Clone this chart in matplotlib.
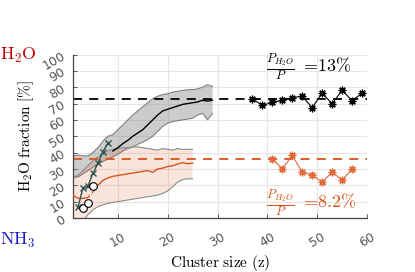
import numpy as np
import matplotlib
matplotlib.use("Agg")
import matplotlib.pyplot as plt

plt.rcParams['mathtext.fontset'] = 'cm'
plt.rcParams['font.family'] = ['DejaVu Sans']

# ---- data ----
band_x = list(range(1, 30))
gray_upper = [38, 38.5, 38, 38, 40, 43, 47, 50, 51, 54, 57, 60, 63, 65.5, 68, 70.5, 73, 74.5,
              75.5, 76, 77, 77.5, 78, 78.5, 78.5, 79, 80, 81.5, 80.5]
gray_lower = [25, 25, 27, 29, 31, 33, 34.5, 36, 37.5, 39, 41, 42.5, 43.5, 45, 46.5, 48, 50, 53,
              56, 58, 59, 59.5, 60, 60.5, 61, 63, 64, 60, 64]
black_x = list(range(9, 30))
black_mean = [41, 43, 45.5, 47.5, 50, 52, 54, 57, 60, 63, 65.5, 66.5, 67.5, 68.5, 69.5, 70,
              70.5, 71, 72, 71.5, 72]

orange_x = list(range(1, 26))
orange_upper = [25, 26, 29, 32, 35, 37.5, 39, 41, 42, 42.5, 43, 43, 43.5, 43.5, 43, 42.5, 42,
                41.5, 42.5, 42, 41.5, 42.5, 42, 42, 42]
orange_lower = [-3, -3, -2, 2, 5, 7, 8, 9, 9.5, 10, 10.5, 11, 11.5, 12, 12.5, 13, 13.5, 14, 15,
                16.5, 19, 22, 23.5, 24, 24]
orange_mean = [14, 12, 12, 12.5, 16, 20, 23, 24.5, 25.5, 26, 26.5, 27, 27.5, 28, 28.5, 29, 28,
               30, 30.5, 31.5, 32, 33, 33.8, 33.2, 33.5]

teal_x = [2, 3, 4, 5, 6, 7, 8]
teal_y = [6.5, 18.5, 19.6, 27.3, 33.4, 40.6, 45.7]

circ_x = [3, 4, 5]
circ_y = [6, 9, 19.5]

star_black_x = [37, 39, 41, 43, 45, 47, 49, 51, 53, 55, 57, 59]
star_black_y = [72.8, 68.9, 70.7, 72, 73.6, 74.5, 67.4, 76.5, 69.8, 78.2, 71.8, 76.3]

star_orange_x = [41, 43, 45, 47, 49, 51, 53, 55, 57]
star_orange_y = [36.3, 30, 38.3, 27.9, 26.5, 21.8, 28.1, 23.2, 29.8]

h2o_ref = 73
nh3_ref = 36.3

xticks = [10, 20, 30, 40, 50, 60]
yticks = list(range(0, 101, 10))

ORANGE = '#D95319'

fig = plt.figure(figsize=(4.15, 2.72), dpi=100)
ax = fig.add_axes([73/415, 1-218/272, (367-73)/415, (218-54.5)/272])

ax.fill_between(band_x, gray_lower, gray_upper, facecolor='0.5', alpha=0.4,
                edgecolor='none', zorder=1)
ax.plot(band_x, gray_upper, color='0.5', lw=0.8, zorder=1.1)
ax.plot(band_x, gray_lower, color='0.5', lw=0.8, zorder=1.1)
ax.plot(black_x, black_mean, color='black', lw=1.0, zorder=3)

ax.fill_between(orange_x, orange_lower, orange_upper, facecolor=ORANGE, alpha=0.15,
                edgecolor='none', zorder=2)
ax.plot(orange_x, orange_upper, color='0.55', lw=0.8, zorder=2.1)
ax.plot(orange_x, orange_lower, color='0.55', lw=0.8, zorder=2.1)
ax.plot(orange_x, orange_mean, color=ORANGE, lw=1.0, zorder=3)

ax.axhline(h2o_ref, color='black', lw=1.3, ls=(0, (5, 4)), zorder=2.5)
ax.axhline(nh3_ref, color=ORANGE, lw=1.3, ls=(0, (5, 4)), zorder=2.5)

ax.plot(teal_x, teal_y, color='#2e5553', lw=1.0, marker='x', ms=5, mew=1.0, zorder=4)
ax.plot(circ_x, circ_y, color='white', lw=1.0, ls='--', marker='o', ms=5.5,
        mfc='white', mec='black', mew=0.8, zorder=5)

ax.plot(star_black_x, star_black_y, color='black', lw=0.8, marker=(8, 2, 0), ms=5.5,
        mew=0.9, zorder=4)
ax.plot(star_orange_x, star_orange_y, color='#e2693a', lw=0.8, marker=(8, 2, 0), ms=5.5,
        mew=0.9, zorder=4)

ax.text(39.8, 92, r'$\frac{P_{H_2O}}{P}\ =\!13\%$', fontsize=13, color='black',
        ha='left', va='center', zorder=6)
ax.text(39.8, 9, r'$\frac{P_{H_2O}}{P}\ =\!8.2\%$', fontsize=13, color=ORANGE,
        ha='left', va='center', zorder=6)

ax.set_xlim(1, 60)
ax.set_ylim(0, 100)
ax.set_xticks(xticks)
ax.set_yticks(yticks)
ax.set_xticklabels([str(t) for t in xticks], rotation=30, fontsize=9, color='#555555')
ax.set_yticklabels([str(t) for t in yticks], rotation=30, fontsize=9, color='#555555')
ax.tick_params(direction='in', length=3, width=0.6, color='#444444', pad=4)
ax.tick_params(axis='x', pad=9)
ax.grid(True, color='#e6e6e6', lw=0.8, zorder=0)
ax.set_axisbelow(True)
for s in ['top', 'right']:
    ax.spines[s].set_visible(False)
for s in ['left', 'bottom']:
    ax.spines[s].set_color('#444444')
    ax.spines[s].set_linewidth(0.9)

ax.set_xlabel(r'$\mathrm{Cluster\ size\ (z)}$', fontsize=11, labelpad=2)
ax.set_ylabel(r'$\mathrm{H_2O\ fraction\ [\%]}$', fontsize=11, labelpad=3)

fig.text(0.0, 1-55/272, r'$\mathrm{H_2O}$', fontsize=13, color='#c00000',
         ha='left', va='center')
fig.text(0.0, 1-240/272, r'$\mathrm{NH_3}$', fontsize=13, color='#1a1acc',
         ha='left', va='center')

fig.savefig('out.png', dpi=100)
